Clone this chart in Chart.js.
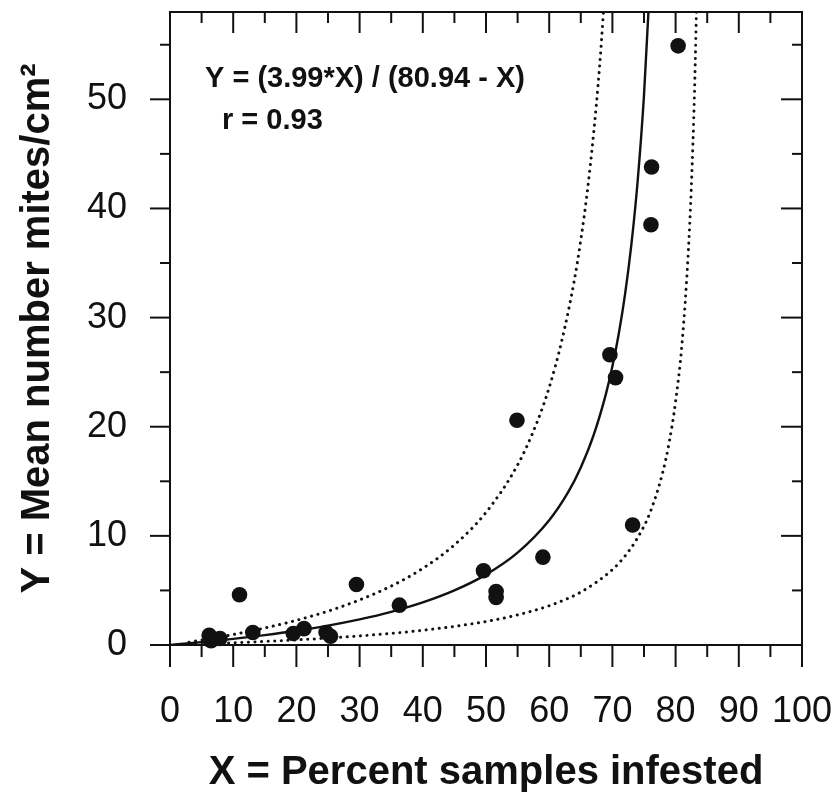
<!DOCTYPE html>
<html>
<head>
<meta charset="utf-8">
<title>Mean number mites vs percent samples infested</title>
<script src="https://cdn.jsdelivr.net/npm/chart.js@4.4.0/dist/chart.umd.min.js"></script>
<style>
  html, body { margin: 0; padding: 0; background: #fff; }
  #wrap { width: 836px; height: 797px; }
</style>
</head>
<body>
<div id="wrap"><canvas id="chart"></canvas></div>
<script>
var obsX = [6.2, 6.5, 7.9, 11.0, 13.1, 19.5, 21.2, 24.7, 25.4, 29.5, 36.3, 49.6, 51.6, 51.6, 54.9, 59.0, 69.6, 70.5, 73.2, 76.1, 76.2, 80.4];
var obsY = [0.9, 0.4, 0.6, 4.6, 1.15, 1.05, 1.5, 1.15, 0.8, 5.55, 3.65, 6.8, 4.9, 4.35, 20.6, 8.05, 26.6, 24.5, 11.0, 38.5, 43.8, 54.9];

/* fitted curve (solid) */
var fitX = [0, 5, 10, 15, 20, 25, 30, 35, 40, 45, 50, 55, 60, 63, 65, 67, 69, 70, 71, 72, 73, 74, 75, 76];
var fitY = [0, 0.26, 0.56, 0.91, 1.31, 1.78, 2.35, 3.04, 3.9, 5.0, 6.45, 8.46, 11.43, 14.0, 16.27, 19.18, 23.06, 25.53, 28.5, 32.13, 36.68, 42.54, 50.38, 61.4];

/* dotted bands */
var upperX = [3, 5, 10, 15, 20, 25, 30, 35, 40, 45, 50, 55, 58, 60, 62, 64, 65, 66, 67, 68, 69];
var upperY = [0.26, 0.45, 0.96, 1.56, 2.26, 3.1, 4.13, 5.4, 7.02, 9.17, 12.15, 16.5, 20.3, 23.6, 27.9, 33.5, 37.1, 41.4, 46.7, 53.2, 61.6];
var lowerX = [3, 10, 20, 30, 40, 50, 55, 60, 65, 70, 72, 74, 76, 78, 79, 80, 81, 82, 82.5, 83, 83.4];
var lowerY = [0.06, 0.2, 0.47, 0.83, 1.35, 2.15, 2.76, 3.6, 4.85, 6.91, 8.16, 9.84, 12.2, 15.9, 18.6, 22.3, 27.5, 35.9, 42.1, 50.8, 60.8];

var xTicks = [0, 10, 20, 30, 40, 50, 60, 70, 80, 90, 100];
var xMinorTicks = [5, 15, 25, 35, 45, 55, 65, 75, 85, 95];
var yTicks = [0, 10, 20, 30, 40, 50];
var yMinorTicks = [5, 15, 25, 35, 45, 55];

var eqLines = ['Y = (3.99*X) / (80.94 - X)', 'r = 0.93'];

var FONT = '"Liberation Sans", Arial, Helvetica, sans-serif';
var INK = '#111';

function pairs(xs, ys) {
  return xs.map(function(x, i) { return { x: x, y: ys[i] }; });
}

function tickList(vals) {
  return vals.map(function(v) { return { value: v }; });
}

/* keep the plot box fixed: ignore label overhang when laying out */
function fixSize(prop, size) {
  return function(scale) {
    scale[prop] = size;
    scale.paddingLeft = 0;
    scale.paddingRight = 0;
    scale.paddingTop = 0;
    scale.paddingBottom = 0;
  };
}

/* box frame plus major/minor tick marks on all four sides */
var frameTicks = {
  id: 'frameTicks',
  afterDatasetsDraw: function(chart) {
    var ctx = chart.ctx, a = chart.chartArea;
    var xs = chart.scales.x, ys = chart.scales.y;
    ctx.save();
    ctx.strokeStyle = INK;
    ctx.lineWidth = 2;
    ctx.strokeRect(a.left, a.top, a.right - a.left, a.bottom - a.top);
    function line(x1, y1, x2, y2) {
      ctx.beginPath(); ctx.moveTo(x1, y1); ctx.lineTo(x2, y2); ctx.stroke();
    }
    xTicks.forEach(function(v) {
      var px = xs.getPixelForValue(v);
      line(px, a.bottom, px, a.bottom + 22);
      line(px, a.top, px, a.top + 21);
    });
    xMinorTicks.forEach(function(v) {
      var px = xs.getPixelForValue(v);
      line(px, a.bottom, px, a.bottom + 12);
      line(px, a.top, px, a.top + 11);
    });
    yTicks.forEach(function(v) {
      var py = ys.getPixelForValue(v);
      line(a.left - 20, py, a.left, py);
      line(a.right - 21, py, a.right, py);
    });
    yMinorTicks.forEach(function(v) {
      var py = ys.getPixelForValue(v);
      line(a.left - 10, py, a.left, py);
      line(a.right - 10, py, a.right, py);
    });
    ctx.restore();
  }
};

var equationText = {
  id: 'equationText',
  afterDraw: function(chart) {
    var ctx = chart.ctx, a = chart.chartArea;
    ctx.save();
    ctx.fillStyle = INK;
    ctx.font = 'bold 29px ' + FONT;
    ctx.textBaseline = 'alphabetic';
    ctx.textAlign = 'left';
    ctx.fillText(eqLines[0], a.left + 35, a.top + 75);
    ctx.fillText(eqLines[1], a.left + 52, a.top + 117);
    ctx.restore();
  }
};

new Chart(document.getElementById('chart').getContext('2d'), {
  type: 'scatter',
  data: {
    datasets: [
      {
        type: 'line',
        data: pairs(upperX, upperY),
        borderColor: INK,
        borderWidth: 3,
        borderDash: [0.1, 6.5],
        borderCapStyle: 'round',
        pointRadius: 0,
        cubicInterpolationMode: 'monotone',
        fill: false
      },
      {
        type: 'line',
        data: pairs(lowerX, lowerY),
        borderColor: INK,
        borderWidth: 3,
        borderDash: [0.1, 6.5],
        borderCapStyle: 'round',
        pointRadius: 0,
        cubicInterpolationMode: 'monotone',
        fill: false
      },
      {
        type: 'line',
        data: pairs(fitX, fitY),
        borderColor: INK,
        borderWidth: 2.4,
        pointRadius: 0,
        cubicInterpolationMode: 'monotone',
        fill: false
      },
      {
        data: pairs(obsX, obsY),
        backgroundColor: INK,
        borderColor: INK,
        borderWidth: 0,
        pointRadius: 7.8,
        clip: false
      }
    ]
  },
  options: {
    responsive: true,
    maintainAspectRatio: false,
    animation: false,
    layout: { padding: { top: 12, right: 34, left: 0, bottom: 0 } },
    plugins: { legend: { display: false }, tooltip: { enabled: false } },
    scales: {
      x: {
        type: 'linear',
        position: 'bottom',
        min: 0,
        max: 100,
        afterBuildTicks: function(scale) { scale.ticks = tickList(xTicks); },
        afterFit: fixSize('height', 152),
        grid: { display: false, drawTicks: false },
        border: { display: false },
        ticks: {
          color: INK,
          font: { family: FONT, size: 36 },
          padding: 45,
          maxRotation: 0,
          autoSkip: false
        },
        title: {
          display: true,
          text: 'X = Percent samples infested',
          color: INK,
          font: { family: FONT, size: 40, weight: 'bold' },
          padding: { top: 0, bottom: 0 }
        }
      },
      y: {
        type: 'linear',
        position: 'left',
        min: 0,
        max: 58,
        afterBuildTicks: function(scale) { scale.ticks = tickList(yTicks); },
        afterFit: fixSize('width', 170),
        grid: { display: false, drawTicks: false },
        border: { display: false },
        ticks: {
          color: INK,
          font: { family: FONT, size: 36 },
          padding: 43,
          autoSkip: false
        },
        title: {
          display: true,
          text: 'Y = Mean number mites/cm\u00b2',
          color: INK,
          font: { family: FONT, size: 40, weight: 'bold' },
          padding: { top: 14, bottom: 0 }
        }
      }
    }
  },
  plugins: [frameTicks, equationText]
});
</script>
</body>
</html>
